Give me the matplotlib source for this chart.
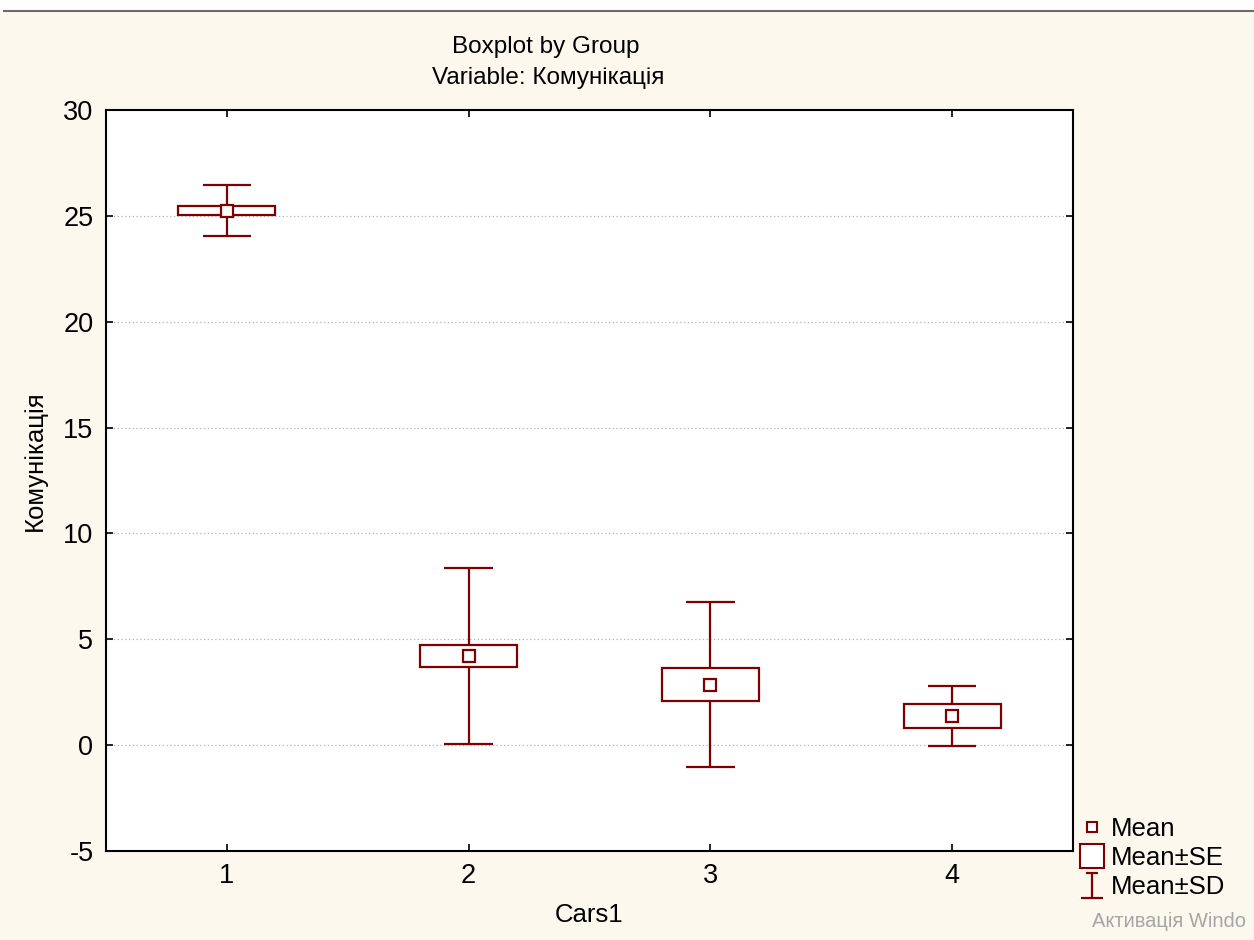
import matplotlib
matplotlib.use("Agg")
import matplotlib.pyplot as plt
from matplotlib.lines import Line2D
from matplotlib.path import Path

plt.rcParams['font.family'] = ['Liberation Sans', 'DejaVu Sans']
plt.rcParams['axes.unicode_minus'] = False

# дані
groups = [1, 2, 3, 4]
means = [25.25, 4.2, 2.86, 1.37]
se = [0.22, 0.52, 0.79, 0.58]
sd = [1.2, 4.15, 3.9, 1.4]
yticks = [-5, 0, 5, 10, 15, 20, 25, 30]

col = '#7f0000'
bg = '#fdf8ee'

fig = plt.figure(figsize=(12.54, 9.4), dpi=100, facecolor=bg)
ax = fig.add_axes([0.0845, 0.0947, 0.7712, 0.7883])
ax.set_facecolor('white')

# прямокутники Mean±SE
lo = [m - s for m, s in zip(means, se)]
ax.bar(groups, [2 * s for s in se], bottom=lo, width=0.4, fill=False,
       edgecolor=col, linewidth=1.6, zorder=3)
# вуса Mean±SD
for g, m, s, d in zip(groups, means, se, sd):
    ax.vlines(g, m + s, m + d, color=col, lw=1.6, zorder=3)
    ax.vlines(g, m - d, m - s, color=col, lw=1.6, zorder=3)
    ax.hlines([m + d, m - d], g - 0.1, g + 0.1, color=col, lw=1.6, zorder=3)
# середні
ax.plot(groups, means, 's', ms=8, mfc='white', mec=col, mew=1.6, zorder=4)

ax.set_xlim(0.5, 4.5)
ax.set_ylim(-5, 30)
ax.set_xticks(groups)
ax.set_yticks(yticks)
ax.tick_params(direction='in', length=5, width=1.2, labelsize=19.5,
               top=True, right=True, pad=9)
for sp in ax.spines.values():
    sp.set_linewidth(1.5)
for y in yticks[1:-1]:
    ax.axhline(y, color='#b0b0b0', lw=0.9, ls=(0, (1, 2)), zorder=1)

ax.set_xlabel('Cars1', fontsize=18.5, labelpad=10)
fig.text(0.028, 0.51, 'Комунікація', rotation=90, fontsize=18.5,
         ha='center', va='center')
fig.text(0.435, 0.950, 'Boxplot by Group', fontsize=17.5, ha='center', va='center')
fig.text(0.437, 0.917, 'Variable: Комунікація', fontsize=17.5, ha='center', va='center')

# легенда
ibeam = Path([(-0.9, -1), (0.9, -1), (0, -1), (0, 1), (-0.5, 1), (0.5, 1)],
             [Path.MOVETO, Path.LINETO, Path.MOVETO, Path.LINETO, Path.MOVETO, Path.LINETO])
handles = [
    Line2D([], [], ls='none', marker='s', ms=7, mfc='white', mec=col, mew=1.5),
    Line2D([], [], ls='none', marker='s', ms=17, mfc='white', mec=col, mew=1.5),
    Line2D([], [], ls='none', marker=ibeam, ms=18, mec=col, mew=1.6),
]
fig.legend(handles, ['Mean', 'Mean±SE', 'Mean±SD'], loc='upper left',
           bbox_to_anchor=(0.863, 0.131), frameon=False, fontsize=18.5,
           handlelength=0.8, handletextpad=0.3, labelspacing=0.2,
           borderaxespad=0, borderpad=0)

# водяний знак Windows (обрізаний, як на знімку)
fig.text(0.871, 0.020, 'Активація Windo', color='#a6a6a6', fontsize=14.5,
         va='center')

# смуга зверху
fig.patches.append(plt.Rectangle((0, 0.988), 1, 0.012, transform=fig.transFigure,
                                 color='white', zorder=0))
fig.lines.append(Line2D([0.003, 1], [0.988, 0.988], transform=fig.transFigure,
                        color='#6e6a62', lw=1.5))

fig.savefig('out.png', dpi=100, facecolor=bg)
